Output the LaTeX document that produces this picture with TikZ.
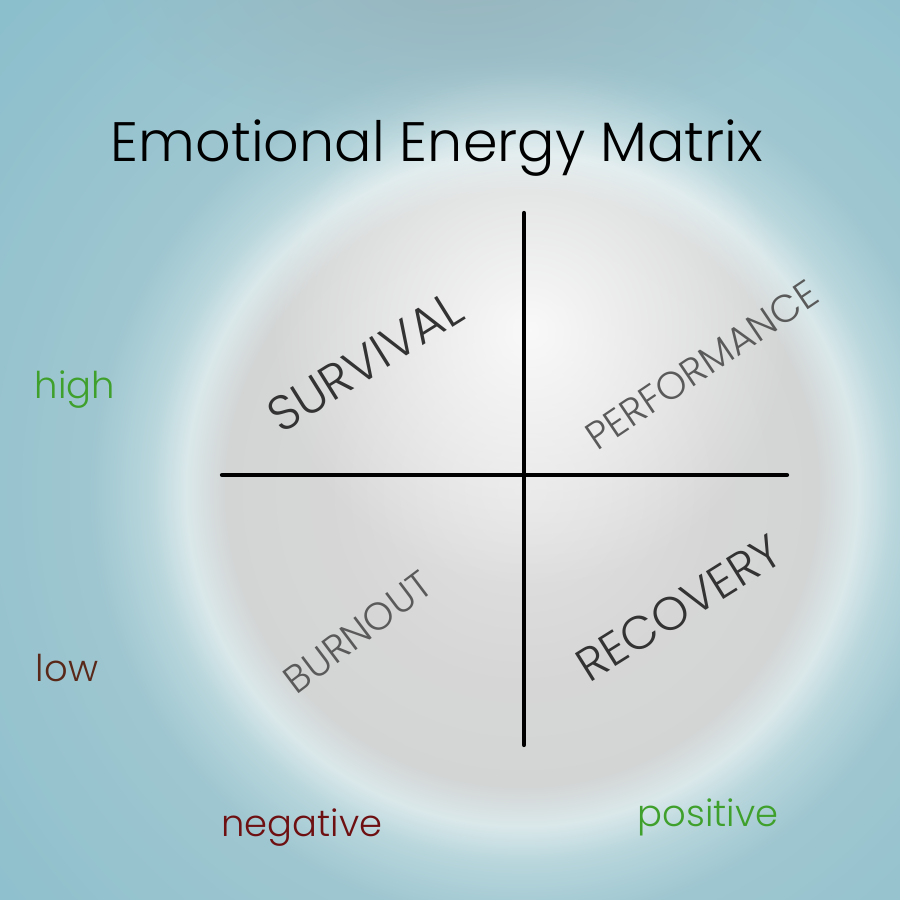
\documentclass[tikz,border=0pt]{standalone}
\usepackage{fontspec}
\setmainfont{Poppins}[UprightFont=* Light]
\usetikzlibrary{fadings}
\definecolor{fondo}{HTML}{8CBFCC}
\definecolor{fondob}{HTML}{9EC6D0}
\definecolor{alone}{HTML}{B8D6DC}
\definecolor{alo}{HTML}{DAE8EA}
\definecolor{grigioa}{HTML}{E2E2E2}
\definecolor{grigiob}{HTML}{D6D6D6}
\definecolor{grigioc}{HTML}{D3D5D5}
\definecolor{cielo}{HTML}{98B2BA}
\definecolor{verde}{HTML}{40A02C}
\definecolor{marrone}{HTML}{5A2818}
\definecolor{rosso}{HTML}{6E1012}
\definecolor{scuro}{HTML}{333333}
\definecolor{medio}{HTML}{5A5A5A}
\pgfdeclareradialshading{alone}{\pgfpoint{0cm}{0cm}}{color(0bp)=(grigioa); color(7bp)=(grigiob); color(10.6bp)=(grigioc); color(12bp)=(alo); color(13.3bp)=(alone); color(15.5bp)=(fondob); color(25bp)=(fondo); color(50bp)=(fondo)}
\tikzfading[name=lucefade, inner color=transparent!0, outer color=transparent!100]
\tikzset{
  quadrante/.style={font=\fontsize{14}{16}\selectfont},
  asse/.style={font=\fontsize{10.5}{13}\selectfont},
  linea/.style={line width=1.2pt,black,line cap=round}
}
\begin{document}
\begin{tikzpicture}
    \useasboundingbox (0,0) rectangle (9,9);
    \clip (0,0) rectangle (9,9);
    %sfondo
    \fill[fondo] (0,0) rectangle (9,9);
    \path[shading=alone] (-1.78,-2.9) rectangle (12.22,11.1);
    \fill[cielo,path fading=lucefade,fill opacity=0.8] (4.6,9.2) ellipse (3.6 and 1.6);
    \fill[white,path fading=lucefade,fill opacity=0.85] (5.3,5.7) circle (2.6);
    %titolo
    \node (titolo) at (4.37,7.52) {\fontsize{15.8}{19}\selectfont Emotional Energy Matrix};
    %assi
    \coordinate (alto) at (5.24,6.87);
    \coordinate (basso) at (5.24,1.55);
    \coordinate (sinistra) at (2.22,4.25);
    \coordinate (destra) at (7.87,4.25);
    \draw[linea] (alto) -- (basso);
    \draw[linea] (sinistra) -- (destra);
    %quadranti
    \node[quadrante,scuro,rotate=32] (survival) at (3.65,5.38) {SURVIVAL};
    \node[quadrante,medio,rotate=34,font=\fontsize{11}{13}\selectfont] (performance) at (7.02,5.35) {PERFORMANCE};
    \node[quadrante,medio,rotate=37,font=\fontsize{11}{13}\selectfont] (burnout) at (3.58,2.68) {BURNOUT};
    \node[quadrante,scuro,rotate=32,font=\fontsize{13.3}{15}\selectfont] (recovery) at (6.79,2.92) {RECOVERY};
    %label
    \node[asse,verde] (high) at (0.75,5.10) {high};
    \node[asse,marrone] (low) at (0.67,2.32) {low};
    \node[asse,rosso] (negative) at (3.02,0.72) {negative};
    \node[asse,verde] (positive) at (7.08,0.83) {positive};
\end{tikzpicture}
\end{document}
